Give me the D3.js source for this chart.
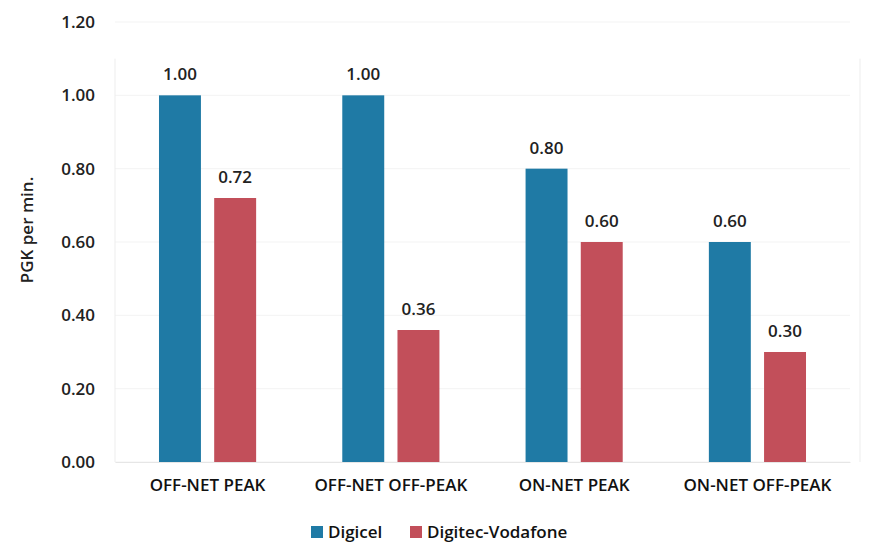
<!DOCTYPE html>
<html>
<head>
<meta charset="utf-8">
<script src="https://cdn.jsdelivr.net/npm/d3@7"></script>
<style>
  body { margin: 0; background: #fff; }
  text { font-family: "Open Sans", Lato, sans-serif; }
</style>
</head>
<body>
<div id="chart"></div>
<script>
// data
var categories = ["OFF-NET PEAK", "OFF-NET OFF-PEAK", "ON-NET PEAK", "ON-NET OFF-PEAK"];
var seriesNames = ["Digicel", "Digitec-Vodafone"];
var digicel = [1.00, 1.00, 0.80, 0.60];
var vodafone = [0.72, 0.36, 0.60, 0.30];
var yTicks = [0, 0.2, 0.4, 0.6, 0.8, 1.0, 1.2];
var colors = ["#1f7aa5", "#c24f5a"];

var W = 877, H = 560;
var margin = {top: 22, right: 27, bottom: 98, left: 115},
    width = W - margin.left - margin.right,
    height = H - margin.top - margin.bottom;

var svg = d3.select("#chart").append("svg")
    .attr("width", W).attr("height", H);
var g = svg.append("g")
    .attr("transform", "translate(" + margin.left + "," + margin.top + ")");

var x = d3.scaleBand().domain(categories).range([0, width]).paddingInner(0.47).paddingOuter(0.24);
var x1 = d3.scaleBand().domain(seriesNames).range([0, x.bandwidth()]).paddingInner(0.24);
var y = d3.scaleLinear().domain([0, 1.2]).range([height, 0]);

// faint gridlines
g.selectAll(".grid").data(yTicks).enter().append("line")
    .attr("x1", 0).attr("x2", width)
    .attr("y1", function(d) { return y(d); }).attr("y2", function(d) { return y(d); })
    .attr("stroke", "#f3f3f3");
g.append("line").attr("x1", 0).attr("x2", 0).attr("y1", y(1.1)).attr("y2", height).attr("stroke", "#ededed");
g.append("line").attr("x1", width + 10).attr("x2", width + 10).attr("y1", y(1.1)).attr("y2", height).attr("stroke", "#ededed");

var fs = 17;

// y axis
var yAxis = g.append("g")
    .call(d3.axisLeft(y).tickValues(yTicks).tickFormat(d3.format(".2f")).tickSize(0).tickPadding(20));
yAxis.select(".domain").remove();
yAxis.selectAll("text").attr("font-size", fs).attr("font-weight", 600).attr("fill", "#222")
    .style("font-family", "'Open Sans', sans-serif");

// x axis
var xAxis = g.append("g")
    .attr("transform", "translate(0," + height + ")")
    .call(d3.axisBottom(x).tickSize(0).tickPadding(17));
xAxis.select(".domain").attr("stroke", "#e6e6e6");
xAxis.selectAll("text").attr("font-size", fs).attr("font-weight", 600).attr("fill", "#111")
    .style("font-family", "'Open Sans', sans-serif");

// y title
svg.append("text")
    .attr("transform", "translate(33," + (margin.top + 208) + ") rotate(-90)")
    .attr("text-anchor", "middle")
    .attr("font-size", 17).attr("font-weight", 600).attr("fill", "#222")
    .text("PGK per min.");

// bars
var rows = categories.map(function(c, i) {
    return {cat: c, vals: [{s: seriesNames[0], v: digicel[i]}, {s: seriesNames[1], v: vodafone[i]}]};
});
var groups = g.selectAll(".grp").data(rows).enter().append("g")
    .attr("transform", function(d) { return "translate(" + x(d.cat) + ",0)"; });
groups.selectAll("rect").data(function(d) { return d.vals; }).enter().append("rect")
    .attr("x", function(d) { return x1(d.s); })
    .attr("y", function(d) { return y(d.v); })
    .attr("width", x1.bandwidth())
    .attr("height", function(d) { return height - y(d.v); })
    .attr("fill", function(d, i) { return colors[i]; });
groups.selectAll(".lbl").data(function(d) { return d.vals; }).enter().append("text")
    .attr("x", function(d) { return x1(d.s) + x1.bandwidth() / 2; })
    .attr("y", function(d) { return y(d.v) - 15; })
    .attr("text-anchor", "middle")
    .attr("font-size", fs).attr("font-weight", 600).attr("fill", "#222")
    .text(function(d) { return d.v.toFixed(2); });

// legend
var legend = svg.append("g").attr("transform", "translate(311,532)");
var lx = [0, 99];
seriesNames.forEach(function(s, i) {
    legend.append("rect").attr("x", lx[i]).attr("y", -6).attr("width", 12).attr("height", 12)
        .attr("fill", colors[i]);
    legend.append("text").attr("x", lx[i] + 17).attr("y", 6)
        .attr("font-size", 17).attr("font-weight", 600).attr("fill", "#111")
        .text(s);
});
</script>
</body>
</html>
